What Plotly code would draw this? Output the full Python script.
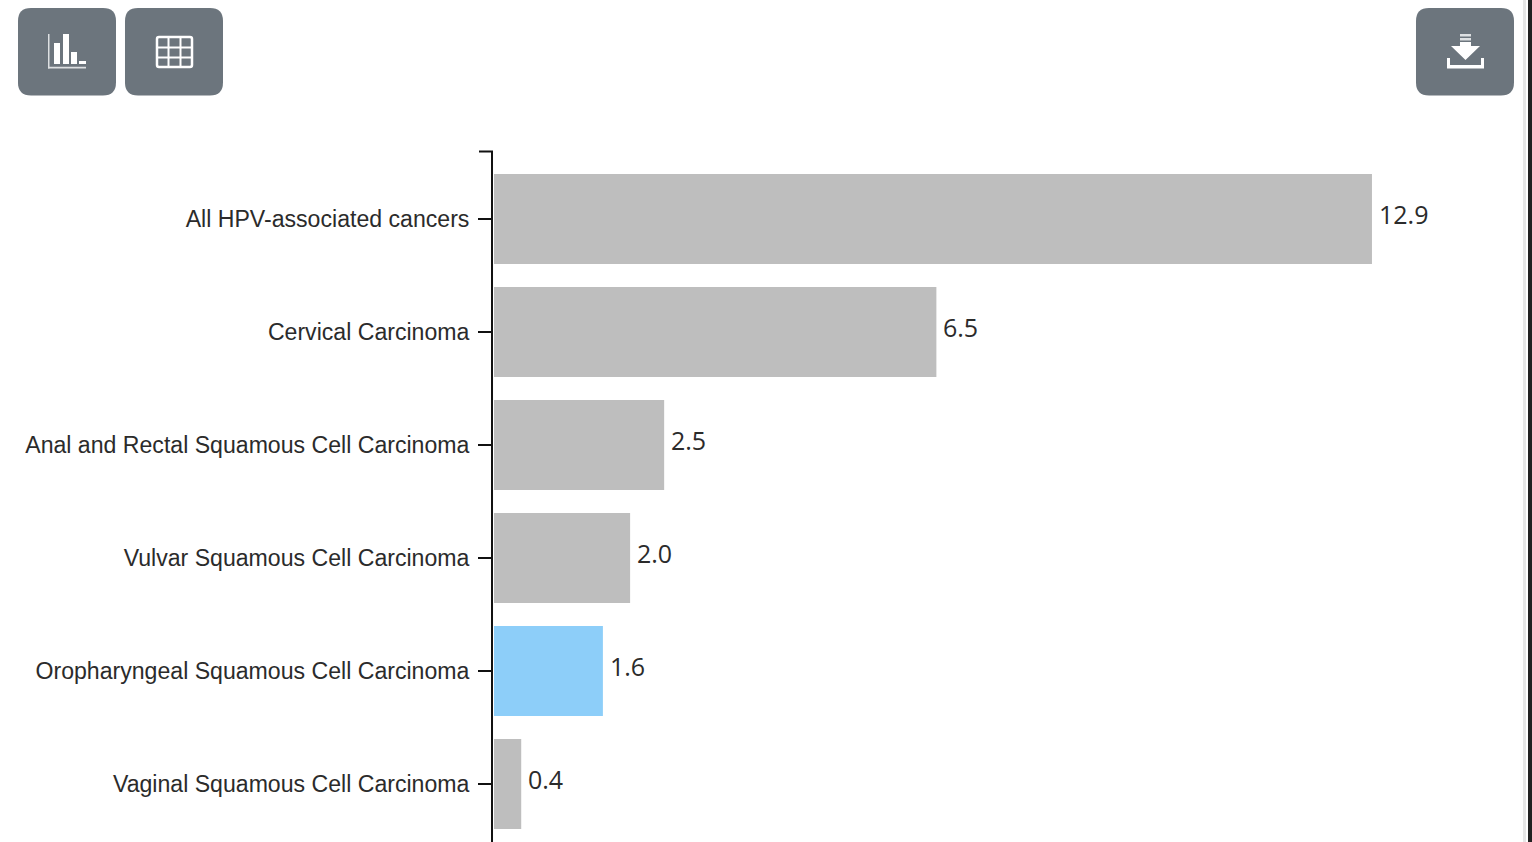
import plotly.graph_objects as go

categories = ["All HPV-associated cancers", "Cervical Carcinoma",
              "Anal and Rectal Squamous Cell Carcinoma", "Vulvar Squamous Cell Carcinoma",
              "Oropharyngeal Squamous Cell Carcinoma", "Vaginal Squamous Cell Carcinoma"]
values = [12.9, 6.5, 2.5, 2.0, 1.6, 0.4]
bar_colors = ["#BEBEBE", "#BEBEBE", "#BEBEBE", "#BEBEBE", "#8DCEF9", "#BEBEBE"]

W, H = 1532, 842
BTN = "#6C757D"


def X(p):
    return p / W


def Y(p):
    return 1 - p / H


def path(points, close=True):
    s = "M" + " L".join(f"{X(a):.5f},{Y(b):.5f}" for a, b in points)
    return s + (" Z" if close else "")


def rrect(x0, y0, x1, y1, r):
    return (f"M{X(x0+r):.5f},{Y(y0):.5f} L{X(x1-r):.5f},{Y(y0):.5f} "
            f"Q{X(x1):.5f},{Y(y0):.5f} {X(x1):.5f},{Y(y0+r):.5f} "
            f"L{X(x1):.5f},{Y(y1-r):.5f} Q{X(x1):.5f},{Y(y1):.5f} {X(x1-r):.5f},{Y(y1):.5f} "
            f"L{X(x0+r):.5f},{Y(y1):.5f} Q{X(x0):.5f},{Y(y1):.5f} {X(x0):.5f},{Y(y1-r):.5f} "
            f"L{X(x0):.5f},{Y(y0+r):.5f} Q{X(x0):.5f},{Y(y0):.5f} {X(x0+r):.5f},{Y(y0):.5f} Z")


shapes = []


def fill(p, color="white"):
    shapes.append(dict(type="path", xref="paper", yref="paper", path=p,
                       fillcolor=color, line=dict(width=0), layer="above"))


def stroke(p, w=1.5, color="white"):
    shapes.append(dict(type="path", xref="paper", yref="paper", path=p,
                       line=dict(color=color, width=w), layer="above"))


def box(x0, y0, x1, y1, color="white"):
    fill(path([(x0, y0), (x1, y0), (x1, y1), (x0, y1)]), color)


# Window edge at the right
box(1523, 0, 1526, 842, "#E6E6E6")
box(1528, 0, 1532, 842, "#222222")

# Buttons
fill(rrect(18, 8, 116, 95.5, 13), BTN)
fill(rrect(125, 8, 223, 95.5, 13), BTN)
fill(rrect(1416, 8, 1514, 95.5, 13), BTN)

# Bar-chart icon
box(48, 34, 49.5, 68.5, "#DDE0E2")
box(48, 66.8, 86, 68.5, "#DDE0E2")
box(54, 43, 60, 64)
box(63, 34, 69, 64)
box(71, 52, 77, 64)
box(79, 61, 86, 64)

# Table icon
shapes.append(dict(type="path", xref="paper", yref="paper", path=rrect(157, 37, 192, 67, 2),
                   line=dict(color="white", width=2.5), layer="above"))
for px in (168.5, 180.5):
    stroke(path([(px, 37), (px, 67)], close=False), 2)
for py in (47.5, 57.5):
    stroke(path([(157, py), (192, py)], close=False), 2)

# Download icon
box(1460, 34, 1471, 36.5, "#DDE0E2")
box(1460, 38, 1471, 40.5, "#DDE0E2")
fill(path([(1460, 42), (1471, 42), (1471, 46), (1480, 46), (1465.5, 60), (1451, 46), (1460, 46)]))
fill(path([(1447, 58), (1450, 58), (1450, 65), (1481, 65), (1481, 58), (1484, 58), (1484, 68.5), (1447, 68.5)]))

# End tick at the top of the axis
stroke(path([(479, 151.5), (493, 151.5)], close=False), 2, "#111111")

fig = go.Figure(go.Bar(
    y=categories, x=values, orientation="h",
    marker=dict(color=bar_colors, line=dict(width=0)),
    hoverinfo="x+y",
))

annotations = [dict(x=v, y=c, xref="x", yref="y", text=f"{v:.1f}", showarrow=False,
                    xanchor="left", yanchor="middle", xshift=5, yshift=5,
                    font=dict(family="Open Sans", size=25, color="#2B2B2B"))
               for c, v in zip(categories, values)]

fig.update_layout(
    width=W, height=H, margin=dict(l=0, r=0, t=0, b=0),
    paper_bgcolor="white", plot_bgcolor="white",
    bargap=0.204, showlegend=False, shapes=shapes, annotations=annotations,
    font=dict(family="Liberation Sans", color="#2B2B2B", size=23),
    xaxis=dict(domain=[X(493), X(1524)], range=[-1 / 68.06, 1030 / 68.06],
               visible=False, showgrid=False, zeroline=False),
    yaxis=dict(domain=[0, Y(151)], range=[5.513, -0.602], type="category",
               categoryorder="array", categoryarray=categories,
               showline=True, linecolor="#111111", linewidth=2,
               ticks="outside", ticklen=13, tickwidth=2, tickcolor="#111111",
               ticklabelstandoff=4, showgrid=False, zeroline=False,
               tickfont=dict(family="Liberation Sans", size=23.1, color="#2B2B2B")),
)

fig.write_html("out.html", config=dict(displayModeBar=False),
               post_script="document.body.style.margin='0';document.body.style.overflow='hidden';")
